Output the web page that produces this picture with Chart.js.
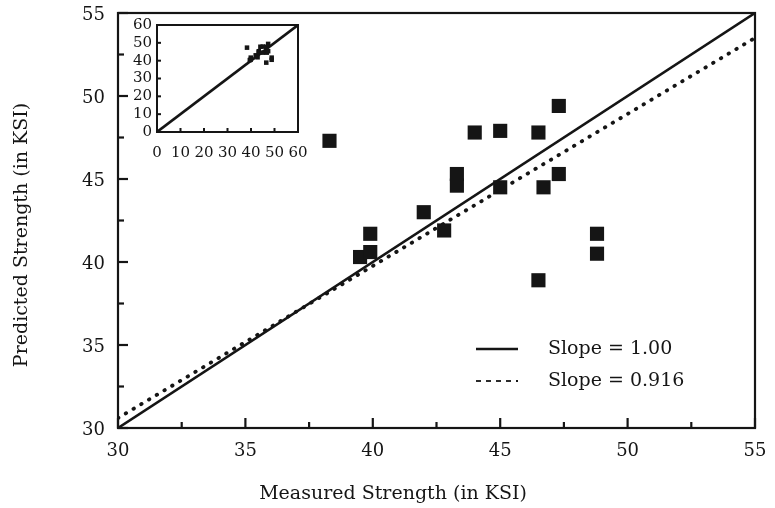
<!DOCTYPE html>
<html>
<head>
<meta charset="utf-8">
<style>
  body { margin: 0; background: #fff; }
  #wrap { position: relative; width: 775px; height: 508px; }
  #main { position: absolute; left: 0; top: 0; }
  #inset { position: absolute; left: 120px; top: 12px; }
</style>
</head>
<body>
<div id="wrap">
  <canvas id="main" width="775" height="508"></canvas>
  <canvas id="inset" width="190" height="156"></canvas>
</div>

<script src="https://cdn.jsdelivr.net/npm/chart.js"></script>

<script>
// measured vs predicted strength (KSI)
const measured  = [38.3, 39.5, 39.9, 39.9, 42.0, 42.8, 43.3, 43.3, 44.0, 45.0, 45.0, 46.5, 46.7, 47.3, 47.3, 48.8, 48.8, 46.5];
const predicted = [47.3, 40.3, 40.6, 41.7, 43.0, 41.9, 45.3, 44.6, 47.8, 47.9, 44.5, 47.8, 44.5, 49.4, 45.3, 41.7, 40.5, 38.9];

const unityX = [30, 55];
const unityY = [30, 55];
const fitX = [30, 55];
const fitY = [30.6, 53.5];

const insetUnityX = [0, 60];
const insetUnityY = [0, 60];

const xTicks = [30, 35, 40, 45, 50, 55];
const yTicks = [30, 35, 40, 45, 50, 55];
const insetTicks = [0, 10, 20, 30, 40, 50, 60];

const ink = '#151515';
const serif = "'DejaVu Serif', serif";

const pts = (xs, ys) => xs.map((x, i) => ({ x: x, y: ys[i] }));

// frame + inward ticks on left and bottom
function frameTicks(id, major, minor, majLen, minLen, lw) {
  return {
    id: id,
    afterDraw(chart) {
      const { ctx, chartArea: a, scales } = chart;
      ctx.save();
      ctx.strokeStyle = ink;
      ctx.lineWidth = lw;
      ctx.strokeRect(a.left, a.top, a.right - a.left, a.bottom - a.top);
      const sx = scales.x, sy = scales.y;
      const nx = Math.round((sx.max - sx.min) / minor);
      for (let i = 0; i <= nx; i++) {
        const v = sx.min + i * minor;
        const p = sx.getPixelForValue(v);
        const len = (Math.abs(v / major - Math.round(v / major)) < 1e-6) ? majLen : minLen;
        ctx.beginPath(); ctx.moveTo(p, a.bottom); ctx.lineTo(p, a.bottom - len); ctx.stroke();
      }
      const ny = Math.round((sy.max - sy.min) / minor);
      for (let i = 0; i <= ny; i++) {
        const v = sy.min + i * minor;
        const p = sy.getPixelForValue(v);
        const len = (Math.abs(v / major - Math.round(v / major)) < 1e-6) ? majLen : minLen;
        ctx.beginPath(); ctx.moveTo(a.left, p); ctx.lineTo(a.left + len, p); ctx.stroke();
      }
      ctx.restore();
    }
  };
}

// axis titles and the legend box inside the plot
const labels = {
  id: 'labels',
  afterDraw(chart) {
    const { ctx } = chart;
    ctx.save();
    ctx.fillStyle = ink;
    ctx.font = '19px ' + serif;
    ctx.textAlign = 'center';
    ctx.textBaseline = 'middle';
    ctx.fillText('Measured Strength (in KSI)', 393, 494);
    ctx.save();
    ctx.translate(22, 235);
    ctx.rotate(-Math.PI / 2);
    ctx.fillText('Predicted Strength (in KSI)', 0, 0);
    ctx.restore();

    ctx.textAlign = 'left';
    ctx.strokeStyle = ink;
    ctx.lineWidth = 2.5;
    ctx.beginPath(); ctx.moveTo(476, 349); ctx.lineTo(518, 349); ctx.stroke();
    ctx.fillText('Slope = 1.00', 548, 349);
    ctx.lineWidth = 1.8;
    ctx.setLineDash([5, 5]);
    ctx.beginPath(); ctx.moveTo(476, 381); ctx.lineTo(518, 381); ctx.stroke();
    ctx.setLineDash([]);
    ctx.fillText('Slope = 0.916', 548, 381);
    ctx.restore();
  }
};

// let the layout padding alone decide where the plot box sits
const sizeX = (h) => s => { s.height = h; s.paddingLeft = 0; s.paddingRight = 0; };
const sizeY = (w) => s => { s.width = w; s.paddingTop = 0; s.paddingBottom = 0; };

new Chart(document.getElementById('main'), {
  type: 'scatter',
  data: {
    datasets: [
      {
        data: pts(measured, predicted),
        pointStyle: 'rect',
        pointRadius: 10,
        backgroundColor: ink,
        borderColor: ink,
        borderWidth: 0
      },
      {
        type: 'line',
        data: pts(unityX, unityY),
        borderColor: ink,
        borderWidth: 2.6,
        pointRadius: 0
      },
      {
        type: 'line',
        data: pts(fitX, fitY),
        borderColor: ink,
        borderWidth: 3.8,
        borderDash: [0.5, 8.5],
        borderCapStyle: 'round',
        pointRadius: 0
      }
    ]
  },
  options: {
    responsive: false,
    animation: false,
    layout: { padding: { top: 13, right: 20, left: 0, bottom: 0 } },
    plugins: { legend: { display: false }, tooltip: { enabled: false } },
    scales: {
      x: {
        type: 'linear', min: 30, max: 55,
        afterBuildTicks: s => { s.ticks = xTicks.map(v => ({ value: v })); },
        afterFit: sizeX(80),
        grid: { display: false, drawTicks: false },
        border: { display: false },
        ticks: { color: ink, font: { family: serif, size: 18 }, padding: 13, maxRotation: 0 }
      },
      y: {
        type: 'linear', min: 30, max: 55,
        afterBuildTicks: s => { s.ticks = yTicks.map(v => ({ value: v })); },
        afterFit: sizeY(118),
        grid: { display: false, drawTicks: false },
        border: { display: false },
        ticks: { color: ink, font: { family: serif, size: 18 }, padding: 13, labelOffset: 2 }
      }
    }
  },
  plugins: [frameTicks('mainFrame', 5, 2.5, 10, 6, 2.2), labels]
});

new Chart(document.getElementById('inset'), {
  type: 'scatter',
  data: {
    datasets: [
      {
        data: pts(measured, predicted),
        pointStyle: 'rect',
        pointRadius: 3.2,
        backgroundColor: ink,
        borderColor: ink,
        borderWidth: 0
      },
      {
        type: 'line',
        data: pts(insetUnityX, insetUnityY),
        borderColor: ink,
        borderWidth: 2.6,
        pointRadius: 0
      }
    ]
  },
  options: {
    responsive: false,
    animation: false,
    layout: { padding: { top: 13, right: 12, left: 0, bottom: 0 } },
    plugins: { legend: { display: false }, tooltip: { enabled: false } },
    scales: {
      x: {
        type: 'linear', min: 0, max: 60,
        afterBuildTicks: s => { s.ticks = insetTicks.map(v => ({ value: v })); },
        afterFit: sizeX(36),
        grid: { display: false, drawTicks: false },
        border: { display: false },
        ticks: { color: ink, font: { family: serif, size: 15 }, padding: 12, maxRotation: 0, autoSkip: false }
      },
      y: {
        type: 'linear', min: 0, max: 60,
        afterBuildTicks: s => { s.ticks = insetTicks.map(v => ({ value: v })); },
        afterFit: sizeY(37),
        grid: { display: false, drawTicks: false },
        border: { display: false },
        ticks: { color: ink, font: { family: serif, size: 15 }, padding: 5, autoSkip: false }
      }
    }
  },
  plugins: [frameTicks('insetFrame', 10, 10, 4, 4, 2)]
});
</script>
</body>
</html>
